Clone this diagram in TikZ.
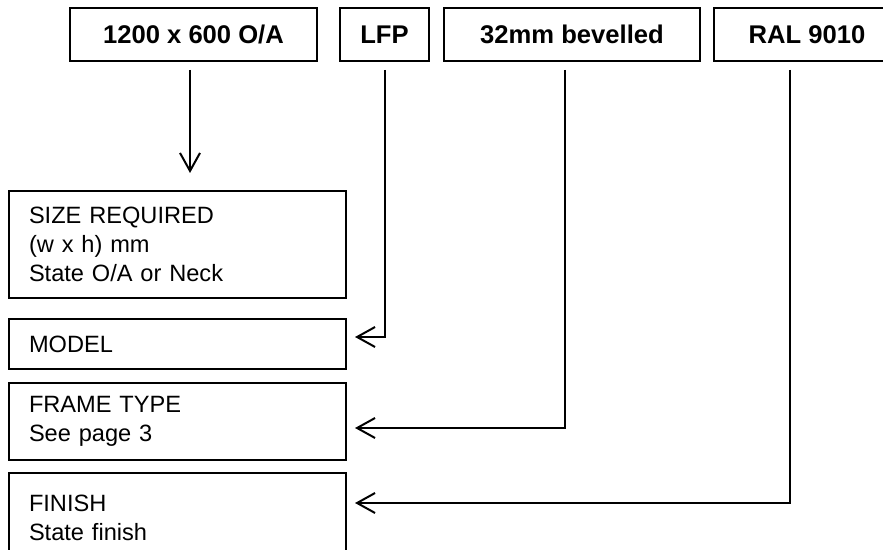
\documentclass[tikz,border=0pt]{standalone}
\usepackage{fontspec}
\setmainfont{Liberation Sans}
\usetikzlibrary{arrows.meta,positioning}

\begin{document}
\begin{tikzpicture}
[
  x=0.5pt, y=-0.5pt,
  topbox/.style={draw, line width=1pt, minimum height=26.5pt, inner sep=0pt,
    font=\fontsize{12.8}{15}\selectfont\bfseries},
  fieldbox/.style={draw, line width=1pt, text width=148.5pt, inner xsep=10pt,
    inner ysep=0pt, align=left, font=\fontsize{11.8}{14.5}\selectfont},
  conn/.style={line width=1pt, -{Straight Barb[length=9pt,width=10pt,line width=1pt]}}
]
  \useasboundingbox (0,0) rectangle (883,550);
  \clip (0,0) rectangle (883,550);

  % values given
  \node[topbox, minimum width=123.5pt] (sizeval) at (193.5,34.5) {1200 x 600 O/A};
  \node[topbox, minimum width=44.5pt] (modelval) at (384.5,34.5) {LFP};
  \node[topbox, minimum width=128pt] (frameval) at (572,34.5) {32mm bevelled};
  \node[topbox, minimum width=93pt] (finishval) at (807,34.5) {RAL 9010};

  % fields of the form
  \node[fieldbox, minimum height=53.5pt] (size) at (177.5,244.5)
    {SIZE REQUIRED\\(w x h) mm\\State O/A or Neck};
  \node[fieldbox, minimum height=25pt] (model) at (177.5,344) {MODEL};
  \node[fieldbox, minimum height=38.5pt] (frame) at (177.5,421.5)
    {FRAME TYPE\\See page 3};
  \node[fieldbox, minimum height=44.5pt] (finish) at (177.5,517.5)
    {FINISH\\State finish};

  \coordinate (tipsize) at (190,173);
  \coordinate (tipmodel) at (355,337);
  \coordinate (tipframe) at (355,428);
  \coordinate (tipfinish) at (355,503);

  \draw[conn] ([xshift=-1.75pt,yshift=-4pt]sizeval.south) -- (tipsize);
  \draw[conn] ([yshift=-4pt]modelval.south) |- (tipmodel);
  \draw[conn] ([xshift=-3.5pt,yshift=-4pt]frameval.south) |- (tipframe);
  \draw[conn] ([xshift=-8.5pt,yshift=-4pt]finishval.south) |- (tipfinish);
\end{tikzpicture}
\end{document}
